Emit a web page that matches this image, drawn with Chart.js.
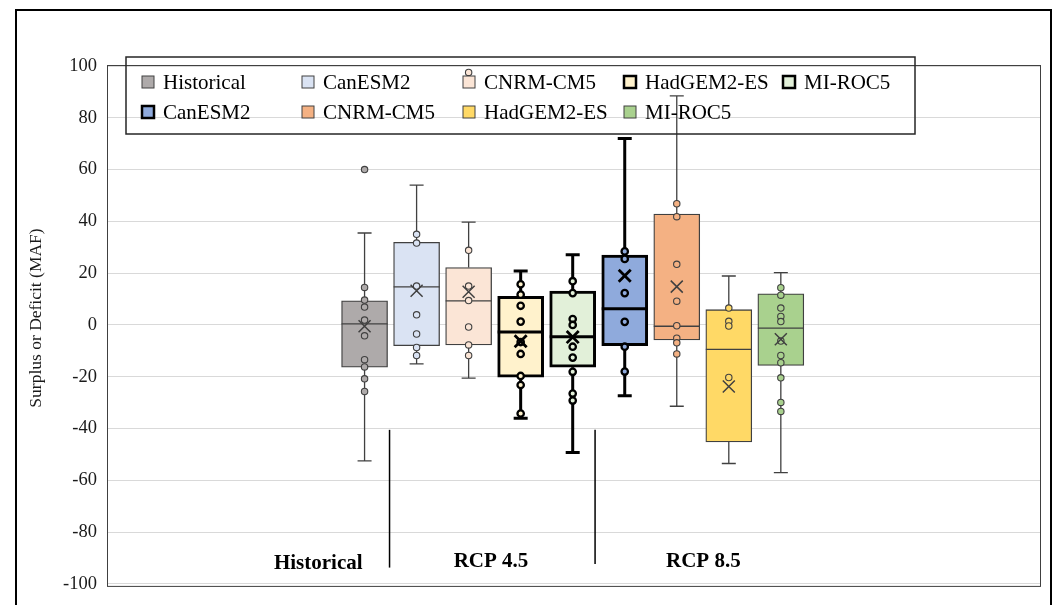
<!DOCTYPE html>
<html><head><meta charset="utf-8">
<script src="https://cdn.jsdelivr.net/npm/chart.js@4/dist/chart.umd.min.js"></script>
<style>html,body{margin:0;padding:0;background:#fff;}#wrap{width:1057px;height:605px;}</style>
</head><body><div id="wrap"><canvas id="c" width="1057" height="605"></canvas></div>
<script>
// ---- data ----
const seriesNames = ['Historical','CanESM2','CNRM-CM5','HadGEM2-ES','MI-ROC5','CanESM2','CNRM-CM5','HadGEM2-ES','MI-ROC5'];
const groupLabels = ['Historical','RCP 4.5','RCP 8.5'];
const groupLabelPos = [-0.89, 2.43, 6.51];
const separatorPos = [0.48, 4.43];
const whiskerLow  = [-52.5, -15.0, -20.5, -36.0, -49.3, -27.3, -31.4, -53.5, -57.0];
const quart1      = [-16.3,  -8.0,  -7.7, -20.2, -16.3,  -8.0,  -5.8, -45.2, -15.6];
const medians     = [  0.4,  14.7,   9.3,  -2.7,  -4.6,   6.3,  -0.5,  -9.4,  -1.2];
const quart3      = [  9.3,  31.9,  22.2,  11.1,  13.1,  27.0,  42.8,   5.9,  12.0];
const whiskerHigh = [ 35.5,  54.0,  39.7,  20.8,  27.1,  72.0,  88.5,  18.9,  20.2];
const means       = [ -0.5,  13.2,  12.8,  -6.3,  -4.7,  19.0,  14.8, -23.8,  -5.5];
const pointsHistorical = [60, 14.5, 9.6, 6.9, 1.9, -4.2, -13.4, -16.2, -20.8, -25.7];
const pointsCanESM2_45 = [35, 31.6, 15, 3.9, -3.5, -8.7, -11.8];
const pointsCNRM_45    = [97.5, 28.8, 15, 9.4, -0.8, -7.7, -11.8];
const pointsHadGEM_45  = [15.7, 11.7, 7.4, 1.3, -6.6, -11.2, -19.7, -23.2, -34.2];
const pointsMIROC_45   = [16.9, 12.3, 2.3, 0, -8.4, -12.6, -18.1, -26.5, -29.2];
const pointsCanESM2_85 = [28.4, 25.5, 12.3, 1.2, -8.4, -18];
const pointsCNRM_85    = [46.8, 41.8, 23.4, 9.2, -0.3, -5.1, -6.9, -11.2];
const pointsHadGEM_85  = [6.5, 1.4, -0.4, -20.3];
const pointsMIROC_85   = [14.4, 11.5, 6.5, 3.3, 1.3, -6.2, -11.8, -14.6, -20.4, -29.9, -33.4];
const yTicks = {min: -100, max: 100, step: 20};

// ---- styles ----
const fills = ['#AEAAAA','#DAE3F3','#FBE5D6','#FFF2CC','#E2F0D9','#8FAADC','#F4B183','#FFD966','#A9D18E'];
const bold  = [false,false,false,true,true,true,false,false,false];
const thinColor = '#404040', boldColor = '#000000';
const edge = i => bold[i] ? boldColor : thinColor;
const lw = i => bold[i] ? 3 : 1.3;
const FONT = '"Liberation Serif","Times New Roman",serif';

const allPoints = [pointsHistorical,pointsCanESM2_45,pointsCNRM_45,pointsHadGEM_45,pointsMIROC_45,
                   pointsCanESM2_85,pointsCNRM_85,pointsHadGEM_85,pointsMIROC_85];
const idx = seriesNames.map((_, i) => i);
const boxData = idx.map(i => ({x: i, y: [quart1[i], quart3[i]]}));
const pointData = [];
allPoints.forEach((arr, s) => arr.forEach(v => pointData.push({x: s, y: v, s: s})));
const meanData = idx.map(i => ({x: i, y: means[i], s: i}));

const extras = {
  id: 'extras',
  beforeDatasetsDraw(chart) {
    const {ctx, scales: {x, y}} = chart;
    ctx.save();
    idx.forEach(i => {
      const px = x.getPixelForValue(i);
      ctx.strokeStyle = edge(i); ctx.lineWidth = lw(i); ctx.lineCap = 'butt';
      ctx.beginPath();
      ctx.moveTo(px, y.getPixelForValue(whiskerHigh[i])); ctx.lineTo(px, y.getPixelForValue(quart3[i]));
      ctx.moveTo(px, y.getPixelForValue(quart1[i])); ctx.lineTo(px, y.getPixelForValue(whiskerLow[i]));
      const cw = 7;
      [whiskerHigh[i], whiskerLow[i]].forEach(v => {
        const py = y.getPixelForValue(v);
        ctx.moveTo(px - cw, py); ctx.lineTo(px + cw, py);
      });
      ctx.stroke();
    });
    ctx.restore();
  },
  afterDatasetDraw(chart, args) {
    if (args.index !== 0) return;
    const {ctx, scales: {y}} = chart;
    const meta = chart.getDatasetMeta(0);
    ctx.save();
    idx.forEach(i => {
      const bar = meta.data[i];
      const py = y.getPixelForValue(medians[i]);
      ctx.strokeStyle = edge(i); ctx.lineWidth = lw(i);
      ctx.beginPath();
      ctx.moveTo(bar.x - bar.width / 2, py); ctx.lineTo(bar.x + bar.width / 2, py);
      ctx.stroke();
    });
    ctx.restore();
  },
  afterDraw(chart) {
    const {ctx, chartArea: a, scales: {x, y}} = chart;
    ctx.save();
    // plot border
    ctx.strokeStyle = '#404040'; ctx.lineWidth = 1;
    ctx.strokeRect(a.left + 0.5, a.top - 0.5, a.right - a.left - 1, a.bottom - a.top + 3);
    // outer frame
    ctx.strokeStyle = '#000'; ctx.lineWidth = 2;
    ctx.strokeRect(16, 10, 1035, 620);
    // y-axis title
    ctx.fillStyle = '#1a1a1a';
    ctx.font = '17.5px ' + FONT;
    ctx.textAlign = 'center'; ctx.textBaseline = 'middle';
    ctx.translate(36, 318); ctx.rotate(-Math.PI / 2);
    ctx.fillText('Surplus or Deficit (MAF)', 0, 0);
    ctx.setTransform(1, 0, 0, 1, 0, 0);
    // separators
    ctx.strokeStyle = '#000'; ctx.lineWidth = 1.5;
    separatorPos.forEach((p, k) => {
      const px = x.getPixelForValue(p);
      ctx.beginPath();
      ctx.moveTo(px, y.getPixelForValue(-40.5));
      ctx.lineTo(px, y.getPixelForValue(k === 0 ? -93.7 : -92.3));
      ctx.stroke();
    });
    // group labels
    ctx.font = 'bold 21px ' + FONT;
    ctx.textAlign = 'center'; ctx.textBaseline = 'alphabetic';
    ctx.fillStyle = '#000';
    groupLabels.forEach((t, k) => {
      ctx.fillText(t, x.getPixelForValue(groupLabelPos[k]), y.getPixelForValue(k === 0 ? -94.3 : -93.3));
    });
    // legend
    const lx = a.left + 19, ly = a.top - 9;
    ctx.strokeStyle = '#262626'; ctx.lineWidth = 1.5;
    ctx.strokeRect(lx, ly, 789, 77);
    const cols = [16, 176, 337, 498, 657];
    const rows = [25, 55];
    const layout = [[0,0,0],[1,1,0],[2,2,0],[3,3,0],[4,4,0],[5,0,1],[6,1,1],[7,2,1],[8,3,1]];
    ctx.font = '21px ' + FONT;
    ctx.textAlign = 'left'; ctx.textBaseline = 'middle';
    layout.forEach(([s, c, r]) => {
      const mx = lx + cols[c], my = ly + rows[r];
      ctx.fillStyle = fills[s];
      ctx.fillRect(mx, my - 6, 12, 12);
      ctx.strokeStyle = edge(s); ctx.lineWidth = bold[s] ? 2.5 : 1;
      ctx.strokeRect(mx, my - 6, 12, 12);
      ctx.fillStyle = '#000';
      ctx.fillText(seriesNames[s], mx + 21, my + 1);
    });
    ctx.restore();
  }
};

new Chart(document.getElementById('c'), {
  data: {
    datasets: [
      {type: 'bar', data: boxData, order: 3,
       backgroundColor: idx.map(i => fills[i]), borderColor: idx.map(edge),
       borderWidth: idx.map(lw), borderSkipped: false, barThickness: 46},
      {type: 'scatter', data: pointData, order: 2,
       pointRadius: 3.2, pointStyle: 'circle',
       backgroundColor: c => c.raw ? fills[c.raw.s] : '#fff',
       borderColor: c => c.raw ? edge(c.raw.s) : '#000',
       borderWidth: c => c.raw ? (bold[c.raw.s] ? 2.3 : 1.1) : 1},
      {type: 'scatter', data: meanData, order: 1,
       pointRadius: 8.5, pointStyle: 'crossRot',
       borderColor: c => c.raw ? edge(c.raw.s) : '#000',
       borderWidth: c => c.raw ? (bold[c.raw.s] ? 2.8 : 1.5) : 1.5}
    ]
  },
  options: {
    responsive: false, animation: false, devicePixelRatio: 1,
    layout: {padding: {left: 0, right: 16, top: 66, bottom: 17}},
    plugins: {legend: {display: false}, tooltip: {enabled: false}},
    scales: {
      x: {type: 'linear', display: false, offset: false, min: -4.95, max: 13.0},
      y: {type: 'linear', min: yTicks.min, max: yTicks.max,
          afterFit: s => { s.width = 107; },
          ticks: {stepSize: yTicks.step, padding: 10, color: '#1a1a1a', font: {family: FONT, size: 18.5}},
          grid: {color: '#d9d9d9', drawTicks: false},
          border: {display: false}}
    }
  },
  plugins: [extras]
});
</script></body></html>
